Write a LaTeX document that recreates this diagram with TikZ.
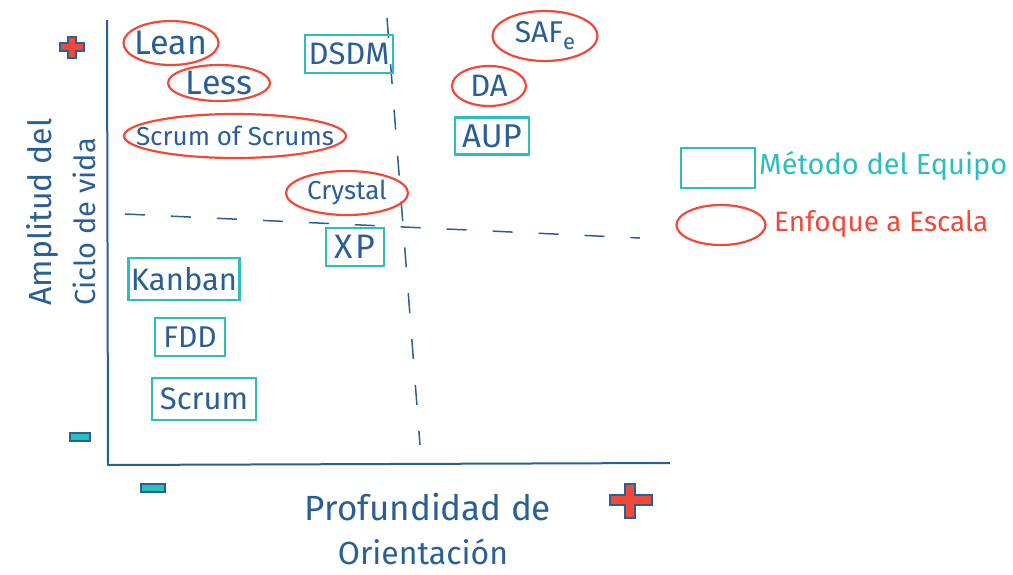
\documentclass[tikz,border=0pt]{standalone}
\usepackage{fontspec}
\setmainfont{Fira Sans}
\usetikzlibrary{shapes.geometric}
\definecolor{ink}{HTML}{2A5F96}
\definecolor{teal}{HTML}{2DBDBD}
\definecolor{rojo}{HTML}{F0493A}
\newcommand{\fsz}[1]{\fontsize{#1}{#1}\selectfont}
\tikzset{
  lbl/.style={text=ink, inner sep=0pt},
  scalebox/.style={draw=rojo, line width=2.2pt, ellipse, inner sep=0pt, text=ink},
  intext/.style={text=ink, inner sep=0pt},
  teambox/.style={draw=teal, line width=2.2pt, rectangle, inner sep=0pt, text=ink},
  axisline/.style={draw=ink, line width=2pt, line join=round},
  dashline/.style={draw=ink, line width=1.5pt, dash pattern=on 20pt off 26pt},
  plussign/.style={fill=rojo, draw=ink, line width=1.2pt},
  minussign/.style={fill=teal, draw=ink, line width=1.2pt},
}
\begin{document}
\begin{tikzpicture}[x=1pt,y=-1pt]
\useasboundingbox (0,0) rectangle (1013,574);
% axes
\coordinate (ytop) at (107,20);
\coordinate (corner) at (108,465);
\coordinate (xend) at (670,463);
\draw[axisline] (ytop) -- (corner) -- (xend);
% dashed quadrant lines
\coordinate (vtop) at (387,18);
\coordinate (vbot) at (420,445);
\draw[dashline] (vtop) -- (vbot);
\coordinate (hleft) at (125,214);
\coordinate (hright) at (640,238);
\draw[dashline] (hleft) -- (hright);
% plus / minus marks
\draw[plussign] (68,37) -- (76,37) -- (76,43) -- (84,43) -- (84,51) -- (76,51) -- (76,58) -- (68,58) -- (68,51) -- (60,51) -- (60,43) -- (68,43) -- cycle;
\draw[minussign] (70,433) rectangle (90,441);
\draw[minussign] (141,484) rectangle (165,492);
\draw[plussign] (625,484) -- (635,484) -- (635,495) -- (652,495) -- (652,505) -- (635,505) -- (635,518) -- (625,518) -- (625,505) -- (610,505) -- (610,495) -- (625,495) -- cycle;
% axis labels
\node[lbl, rotate=90, font=\fsz{32}] (ylab1) at (42,212) {Amplitud del};
\node[lbl, rotate=90, font=\fsz{29}] (ylab2) at (84,222) {Ciclo de vida};
\node[lbl, font=\fsz{35}] (xlab1) at (428,507) {Profundidad de};
\node[lbl, font=\fsz{32}] (xlab2) at (423,552) {Orientación};
% scaling approaches (ellipses)
\node[scalebox, minimum width=95pt, minimum height=44pt, label={[intext, font=\fsz{34}]center:Lean}] (lean) at (171,43) {};
\node[scalebox, minimum width=102pt, minimum height=36pt, label={[intext, font=\fsz{34}]center:Less}] (less) at (219,83) {};
\node[scalebox, minimum width=222pt, minimum height=44pt, label={[intext, font=\fsz{26}]center:Scrum of Scrums}] (sos) at (235,136) {};
\node[scalebox, minimum width=122pt, minimum height=44pt, label={[intext, font=\fsz{26}]center:Crystal}] (crystal) at (347,193) {};
\node[scalebox, minimum width=105pt, minimum height=50pt, label={[intext, font=\fsz{30}]center:{SAF\raisebox{-7pt}{\fsz{22}e}}}] (safe) at (545,36) {};
\node[scalebox, minimum width=74pt, minimum height=40pt, label={[intext, font=\fsz{31}]center:DA}] (da) at (489,86) {};
% team methods (rectangles)
\node[teambox, minimum width=88pt, minimum height=38pt, font=\fsz{31}] (dsdm) at (349,54) {DSDM};
\node[teambox, minimum width=74pt, minimum height=37pt, font=\fsz{33}] (aup) at (492,136) {AUP};
\node[teambox, minimum width=58pt, minimum height=38pt, font=\fsz{34}\addfontfeature{LetterSpace=8}] (xp) at (355,247) {XP};
\node[teambox, minimum width=111pt, minimum height=42pt, font=\fsz{31}] (kanban) at (184,279) {Kanban};
\node[teambox, minimum width=70pt, minimum height=38pt, font=\fsz{30}] (fdd) at (190,337) {FDD};
\node[teambox, minimum width=104pt, minimum height=42pt, font=\fsz{31}] (scrum) at (204,399) {Scrum};
% legend
\node[teambox, minimum width=74pt, minimum height=40pt] (legteam) at (718,168) {};
\node[anchor=west, text=teal, inner sep=0pt, font=\fsz{29}] (legteamtxt) at (759,166) {Método del Equipo};
\node[scalebox, minimum width=89pt, minimum height=40pt] (legscale) at (721,225) {};
\node[anchor=west, text=rojo, inner sep=0pt, font=\fsz{28}] (legscaletxt) at (774,224) {Enfoque a Escala};
\end{tikzpicture}
\end{document}
